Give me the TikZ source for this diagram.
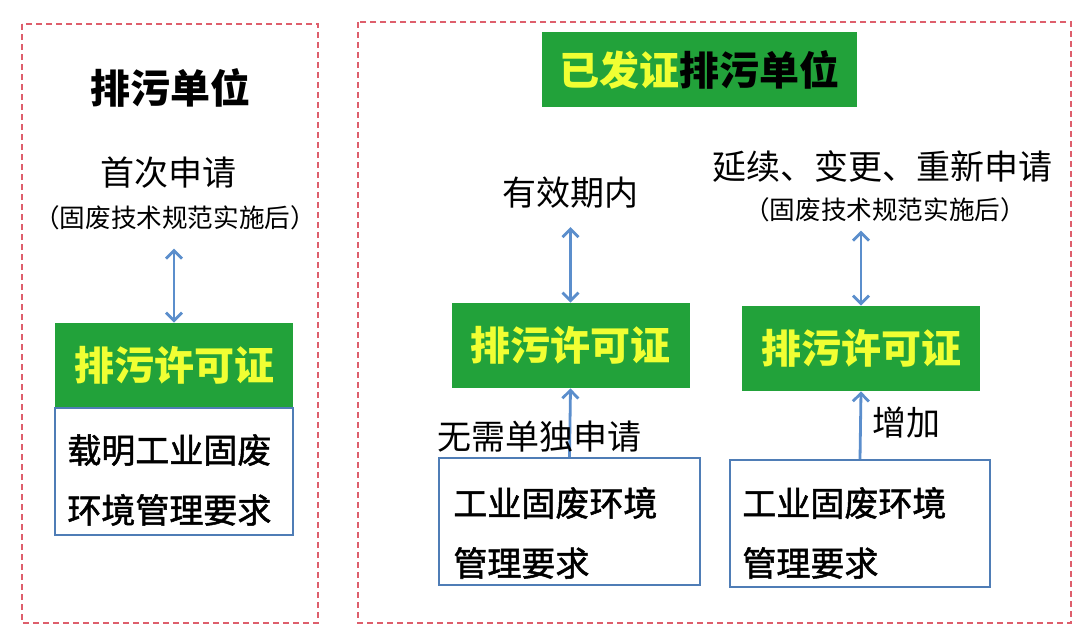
\documentclass[tikz,border=0pt]{standalone}
\usepackage{fontspec}
\newfontfamily\cjk{Noto Sans CJK SC}
\newfontfamily\cjkgras[FakeBold=1.5]{Noto Sans CJK SC}
\usetikzlibrary{arrows.meta}
\definecolor{vert}{HTML}{22A23A}
\definecolor{jaune}{HTML}{F0FF33}
\definecolor{bleu}{HTML}{5B8ECC}
\definecolor{bord}{HTML}{4F7DB6}
\definecolor{rose}{HTML}{DE5E6C}
\newcommand{\vcol}{vert}
\newcommand{\jcol}{jaune}

\tikzset{
  pointille/.style={draw=rose, line width=0.6pt, dash pattern=on 3pt off 2pt},
  titre/.style={font=\cjk\bfseries\fontsize{20}{24}\selectfont, inner sep=0pt},
  texte/.style={font=\cjk\fontsize{17}{20}\selectfont, inner sep=0pt},
  petit/.style={font=\cjk\fontsize{12.8}{15}\selectfont, inner sep=0pt},
  permis/.style={fill=\vcol, draw=none, minimum width=119pt, minimum height=42.5pt,
    text=\jcol, font=\cjk\bfseries\fontsize{20}{24}\selectfont},
  boite/.style={draw=bord, line width=1.2pt, fill=white, minimum height=63.5pt},
  corps/.style={font=\cjkgras\fontsize{17}{30}\selectfont, align=left, inner sep=0pt},
  fleche/.style={draw=bleu, line width=1.4pt, >={Straight Barb[length=4pt,width=8pt]}}
}

\begin{document}
\begin{tikzpicture}[x=0.5pt, y=-0.5pt]
  \useasboundingbox (0,0) rectangle (1080,637);

  % cadres
  \draw[pointille] (22,24) rectangle (318,623);
  \draw[pointille] (358,22) rectangle (1071,623);

  % premiere demande
  \node[titre] (t1) at (170,88) {排污单位};
  \node[texte] (a1) at (168,173) {首次申请};
  \node[petit] (s1) at (175,218) {（固废技术规范实施后）};
  \node[permis] (g1) at (174,365.5) {排污许可证};
  \node[boite, minimum width=119pt] (w1) at (174,471.5) {};
  \node[corps, anchor=west] (c1) at (67,480) {载明工业固废\\环境管理要求};
  \draw[fleche, <->, shorten <=9pt] (s1.south -| g1.north) -- (g1.north);

  % deja certifie
  \node[fill=\vcol, minimum width=157.5pt, minimum height=37.5pt, titre] (t2) at (699.5,69.5)
    {\textcolor{\jcol}{已发证}排污单位};

  % periode de validite
  \node[texte] (a2) at (570,193) {有效期内};
  \node[permis] (g2) at (570.5,345.5) {排污许可证};
  \node[boite, minimum width=130.5pt] (w2) at (569.5,521.5) {};
  \node[corps, anchor=west] (c2) at (453,533) {工业固废环境\\管理要求};
  \draw[fleche, <->, shorten <=9pt] (a2.south -| g2.north) -- (g2.north);
  \draw[fleche, ->] (w2.north) -- (g2.south);
  \node[texte] (n2) at (539,437) {无需单独申请};

  % renouvellement
  \node[texte] (a3) at (882,167) {延续、变更、重新申请};
  \node[petit] (s3) at (885,210) {（固废技术规范实施后）};
  \node[permis] (g3) at (861,348.5) {排污许可证};
  \node[boite, minimum width=130pt] (w3) at (860,523.5) {};
  \node[corps, anchor=west] (c3) at (742,533) {工业固废环境\\管理要求};
  \draw[fleche, <->, shorten <=4pt] (s3.south -| g3.north) -- (g3.north);
  \draw[fleche, ->] (w3.north) -- (g3.south);
  \node[texte] (n3) at (906,423) {增加};

\end{tikzpicture}
\end{document}
